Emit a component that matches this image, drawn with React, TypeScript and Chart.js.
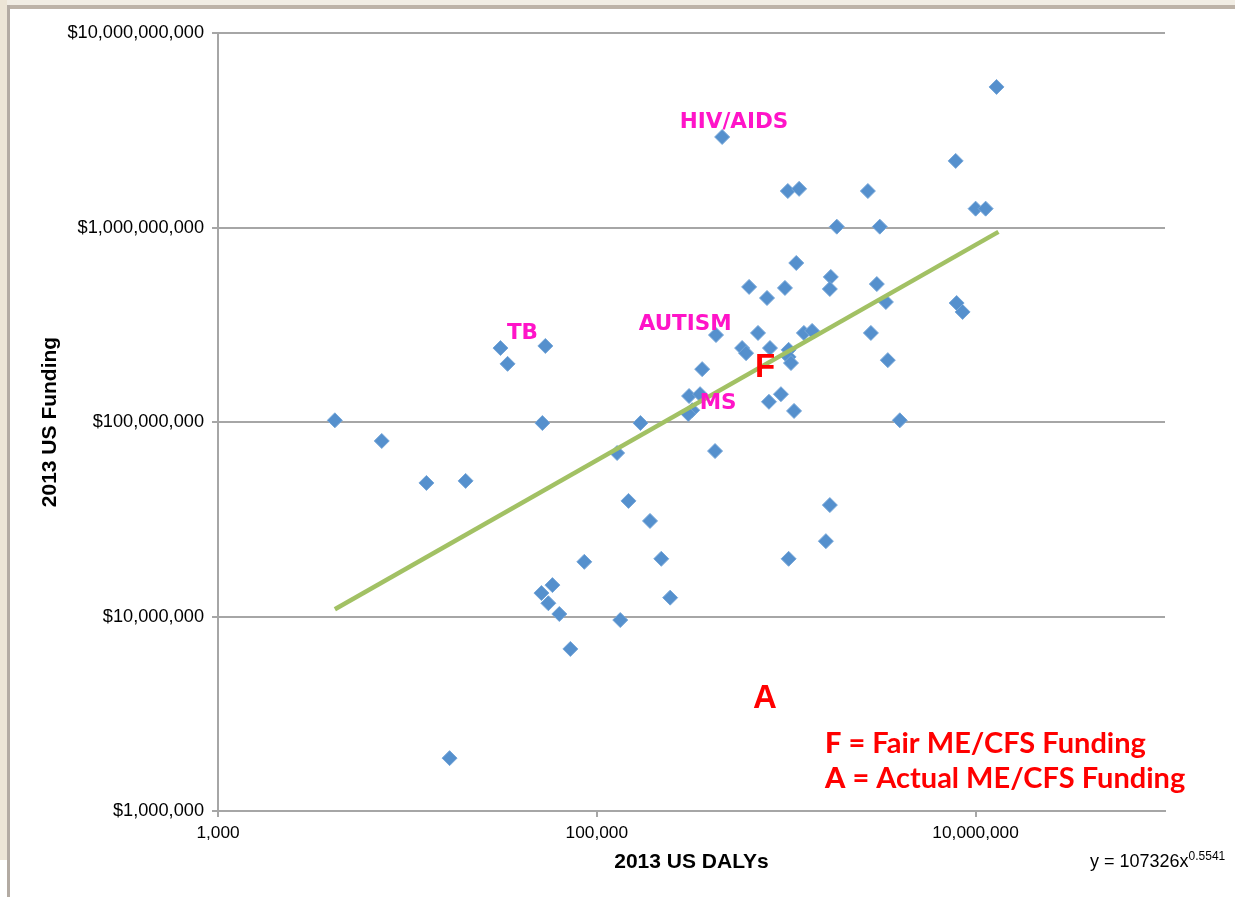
import React, { useEffect, useRef } from 'react';
import { Chart, registerables } from 'chart.js';

Chart.register(...registerables);

// 2013 US DALYs (x) and 2013 US Funding in $ (y), one entry per disease
const dalys = [
  4140, 7320, 12600, 20300, 16700, 31000, 33800, 53500, 51600, 51000,
  55500, 58300, 63400, 72500, 85900, 133000, 128000, 147000, 191000, 219000,
  244000, 170000, 421000, 1620000, 1700000, 1030000, 3980000, 459000, 1020000, 1170000,
  2700000, 1850000, 3120000, 1130000, 637000, 985000, 792000, 1720000, 1700000, 3010000,
  3360000, 426000, 710000, 1240000, 1370000, 2800000, 585000, 614000, 821000, 1030000,
  1030000, 1060000, 3440000, 360000, 307000, 319000, 304000, 351000, 811000, 938000,
  1100000, 12900000, 7850000, 10000000, 11300000, 7940000, 8540000,
];
const funding = [
  1.02e8, 7.99e7, 4.86e7, 4.98e7, 1.87e6, 2.4e8, 1.99e8, 2.46e8, 9.88e7, 1.32e7,
  1.17e7, 1.45e7, 1.03e7, 6.81e6, 1.91e7, 9.59e6, 6.93e7, 3.93e7, 3.1e7, 1.98e7,
  1.25e7, 9.88e7, 7.09e7, 2.44e7, 3.74e7, 1.98e7, 1.02e8, 2.92e9, 1.54e9, 1.58e9,
  1.54e9, 1.01e9, 1.01e9, 6.57e8, 4.95e8, 4.89e8, 4.34e8, 5.57e8, 4.83e8, 5.12e8,
  4.14e8, 2.8e8, 2.87e8, 2.87e8, 2.94e8, 2.87e8, 2.4e8, 2.26e8, 2.4e8, 2.35e8,
  2.16e8, 2.01e8, 2.08e8, 1.87e8, 1.36e8, 1.15e8, 1.1e8, 1.39e8, 1.27e8, 1.39e8,
  1.14e8, 5.28e9, 2.2e9, 1.25e9, 1.25e9, 4.09e8, 3.68e8,
];

// power trendline y = 107326x^0.5541 (straight on log-log), endpoints
const trendX = [4140, 13200000];
const trendY = [1.09e7, 9.5e8];

const xTicks = [1e3, 1e5, 1e7];
const yTicks = [1e6, 1e7, 1e8, 1e9, 1e10];

const labelTexts = ['HIV/AIDS', 'TB', 'AUTISM', 'MS'];
const labelX = [530500, 40500, 292700, 436900];
const labelY = [3.49e9, 2.9e8, 3.23e8, 1.267e8];

const markerTexts = ['F', 'A'];
const markerX = [773000, 773000];
const markerY = [1.94e8, 3.855e6];

const legendKeys = ['F', 'A'];
const legendRest = [' = Fair ME/CFS Funding', ' = Actual ME/CFS Funding'];
const equationMain = 'y = 107326x';
const equationExp = '0.5541';

const annotationPlugin = {
  id: 'annotationPlugin',
  afterDatasetsDraw(chart: any) {
    const { ctx, scales, chartArea } = chart;
    const xs = scales.x;
    const ys = scales.y;
    ctx.save();
    ctx.textAlign = 'center';
    ctx.textBaseline = 'middle';
    // disease labels
    ctx.fillStyle = '#FF14C8';
    ctx.font = 'bold 21.5px "DejaVu Sans"';
    labelTexts.forEach((t, i) => {
      ctx.fillText(t, xs.getPixelForValue(labelX[i]), ys.getPixelForValue(labelY[i]) + 1);
    });
    // F / A markers
    ctx.fillStyle = '#FF0000';
    ctx.font = 'bold 33px "Liberation Sans"';
    markerTexts.forEach((t, i) => {
      ctx.fillText(t, xs.getPixelForValue(markerX[i]), ys.getPixelForValue(markerY[i]) + 2);
    });
    // legend text
    ctx.textAlign = 'left';
    ctx.textBaseline = 'alphabetic';
    const lx = chartArea.right - 340;
    legendKeys.forEach((k, i) => {
      const by = chartArea.bottom - 58.5 + i * 35;
      ctx.font = '900 29px Lato';
      ctx.fillText(k, lx, by);
      const w = ctx.measureText(k).width;
      ctx.font = 'bold 29px Lato';
      ctx.fillText(legendRest[i], lx + w, by);
    });
    // equation
    ctx.fillStyle = '#000000';
    ctx.font = '18px "Liberation Sans"';
    const ex = chartArea.right - 75;
    const ey = chartArea.bottom + 56;
    ctx.fillText(equationMain, ex, ey);
    const mw = ctx.measureText(equationMain).width;
    ctx.font = '12px "Liberation Sans"';
    ctx.fillText(equationExp, ex + mw, ey - 7);
    ctx.restore();
  },
};

function ChartView() {
  const ref = useRef<HTMLCanvasElement | null>(null);
  useEffect(() => {
    if (!ref.current) return;
    const xTickFont = { family: '"Liberation Sans", Arial, sans-serif', size: 17.3 };
    const yTickFont = { family: '"Liberation Sans", Arial, sans-serif', size: 18.2 };
    const titleFont = { family: '"Liberation Sans", Arial, sans-serif', size: 21, weight: 'bold' as const };
    const chart = new Chart(ref.current, {
      type: 'scatter',
      data: {
        datasets: [
          {
            type: 'line',
            label: 'Trend',
            data: trendX.map((x, i) => ({ x, y: trendY[i] })),
            borderColor: '#A2C164',
            borderWidth: 4.5,
            pointRadius: 0,
            fill: false,
            order: 0,
          } as any,
          {
            label: 'Diseases',
            data: dalys.map((x, i) => ({ x, y: funding[i] })),
            pointStyle: 'rectRot',
            pointRadius: 7.5,
            backgroundColor: '#5590CD',
            borderColor: '#76A6D8',
            borderWidth: 1,
            order: 1,
          },
        ],
      },
      options: {
        responsive: false,
        animation: false,
        events: [],
        layout: { padding: { left: 0, right: 70, top: 33, bottom: 0 } },
        plugins: { legend: { display: false }, tooltip: { enabled: false } },
        scales: {
          x: {
            type: 'logarithmic',
            position: 'bottom',
            min: 1e3,
            max: 1e8,
            afterBuildTicks: (s: any) => {
              s.ticks = xTicks.map((v) => ({ value: v }));
            },
            afterFit: (s: any) => {
              s.height = 86;
            },
            ticks: {
              callback: (v: any) => Number(v).toLocaleString('en-US'),
              font: xTickFont,
              color: '#000000',
              padding: 6,
              maxRotation: 0,
              autoSkip: false,
            },
            grid: { drawOnChartArea: false, drawTicks: true, tickLength: 6, color: '#A6A6A6', lineWidth: 2 },
            border: { color: '#A6A6A6', width: 2 },
            title: {
              display: true,
              text: '2013 US DALYs',
              font: titleFont,
              color: '#000000',
              padding: { top: 0, bottom: 22.5 },
            },
          },
          y: {
            type: 'logarithmic',
            position: 'left',
            min: 1e6,
            max: 1e10,
            afterBuildTicks: (s: any) => {
              s.ticks = yTicks.map((v) => ({ value: v }));
            },
            afterFit: (s: any) => {
              s.width = 218;
            },
            ticks: {
              callback: (v: any) => '$' + Number(v).toLocaleString('en-US'),
              font: yTickFont,
              color: '#000000',
              padding: 8,
              autoSkip: false,
            },
            grid: { drawOnChartArea: true, drawTicks: true, tickLength: 6, color: '#A6A6A6', lineWidth: 2 },
            border: { color: '#A6A6A6', width: 2 },
            title: {
              display: true,
              text: '2013 US Funding',
              font: titleFont,
              color: '#000000',
              padding: { top: 38, bottom: 0 },
            },
          },
        },
      },
      plugins: [annotationPlugin],
    });
    return () => chart.destroy();
  }, []);
  return <canvas ref={ref} width={1235} height={897} style={{ position: 'absolute', left: 0, top: 0 }} />;
}

export default function App() {
  return (
    <div style={{ position: 'absolute', left: 0, top: 0, width: 1235, height: 897, background: '#FFFFFF', overflow: 'hidden' }}>
      <div style={{ position: 'absolute', left: 0, top: 0, width: 1235, height: 5, background: '#F1EDE4' }} />
      <div style={{ position: 'absolute', left: 0, top: 5, width: 1235, height: 4, background: '#BDB3A8' }} />
      <div style={{ position: 'absolute', left: 0, top: 0, width: 7, height: 860, background: '#ECE5D6' }} />
      <div style={{ position: 'absolute', left: 7, top: 5, width: 3, height: 892, background: '#B3ABA3' }} />
      <ChartView />
    </div>
  );
}
